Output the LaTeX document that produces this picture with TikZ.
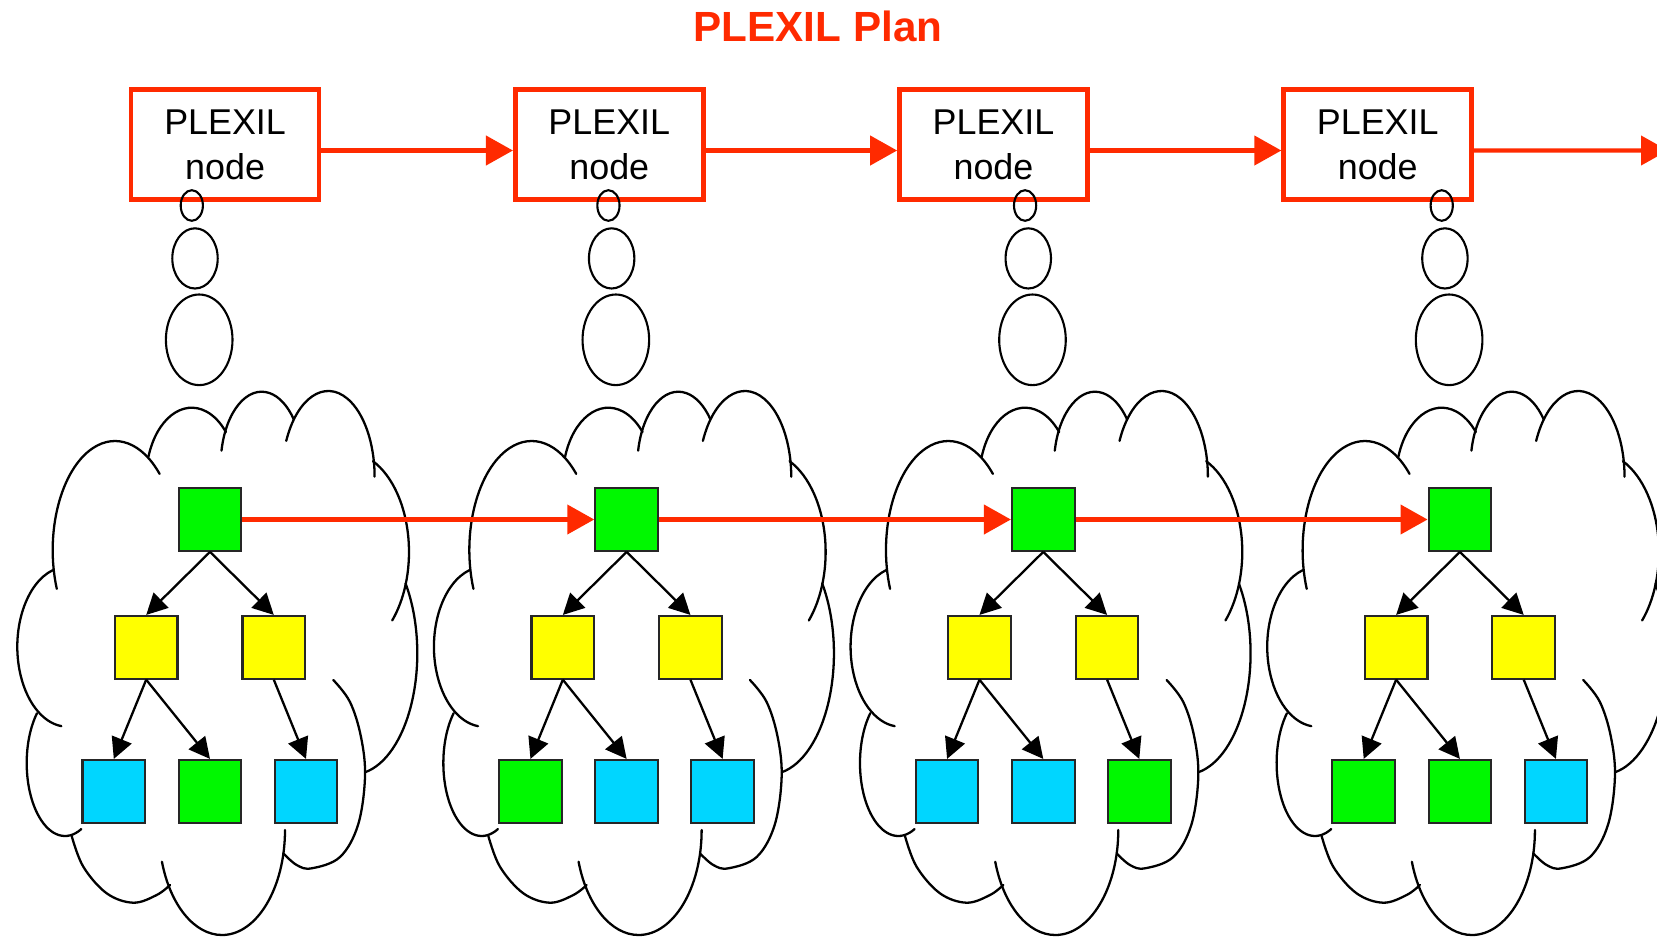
\documentclass[tikz,border=0pt]{standalone}
\usepackage{fontspec}
\setmainfont{Liberation Sans}
\usetikzlibrary{arrows.meta}
\definecolor{plred}{RGB}{255,42,0}
\definecolor{plgreen}{RGB}{0,248,0}
\definecolor{plyellow}{RGB}{255,255,0}
\definecolor{plcyan}{RGB}{0,214,255}
\newcommand\plcloud{%
 \draw[cloudline] (115,550) ++(159.1:62.3 and 109) arc[start angle=159.1,end angle=315.7,x radius=62.3,y radius=109];
 \draw[cloudline] (191.7,480) ++(198.7:45.7 and 72.3) arc[start angle=198.7,end angle=318.5,x radius=45.7,y radius=72.3];
 \draw[cloudline] (261.7,465) ++(191.3:41 and 73.3) arc[start angle=191.3,end angle=321.5,x radius=41,y radius=73.3];
 \draw[cloudline] (328.3,476.7) ++(204.7:46.3 and 85.7) arc[start angle=204.7,end angle=360,x radius=46.3,y radius=85.7];
 \draw[cloudline] (347,552) ++(294.7:62 and 100) arc[start angle=294.7,end angle=403.2,x radius=62,y radius=100];
 \draw[cloudline] (353.3,653.3) ++(324.7:64 and 121) arc[start angle=324.7,end angle=439.2,x radius=64,y radius=121];
 \draw[cloudline] plot[smooth,tension=0.6] coordinates {(333.3,680) (350,702) (361,737) (365,777) (358,825) (340,857) (311.7,868.3) (296.7,865) (283.3,853.3)};
 \draw[cloudline] (222,830) ++(0:63 and 105) arc[start angle=0,end angle=162.4,x radius=63,y radius=105];
 \draw[cloudline] plot[smooth,tension=0.6] coordinates {(170,885) (156.7,895) (133.3,902.7) (106.7,893.3) (83.3,866.7) (71.7,836)};
 \draw[cloudline] (65,763) ++(223:38.3 and 73) arc[start angle=223,end angle=64.8,x radius=38.3,y radius=73];
 \draw[cloudline] (67.3,646.7) ++(253.2:50 and 80) arc[start angle=253.2,end angle=96.8,x radius=50,y radius=80];
}
\begin{document}
\begin{tikzpicture}[x=0.01cm,y=-0.01cm,
  plbox/.style={draw=plred, line width=1.3pt, minimum width=1.88cm, minimum height=1.10cm,
    align=center, inner sep=0pt, font=\fontsize{10.2}{12.8}\selectfont},
  sq/.style={draw=black!85, line width=0.6pt, minimum size=0.626cm, inner sep=0pt},
  gsq/.style={sq, fill=plgreen},
  ysq/.style={sq, fill=plyellow},
  csq/.style={sq, fill=plcyan},
  redarrow/.style={draw=plred, line width=1.2pt, -{Triangle[length=0.27cm,width=0.29cm]}},
  blackarrow/.style={draw=black, line width=0.65pt, -{Triangle[length=0.21cm,width=0.21cm]}},
  cloudline/.style={draw=black, line width=0.65pt, line cap=round},
  bubble/.style={draw=black, line width=0.6pt}
]
\useasboundingbox (0,0) rectangle (1657,936);
\fill[white] (0,0) rectangle (1657,936);
\clip (0,0) rectangle (1657,936);

\node[text=plred, font=\fontsize{12}{14}\selectfont\bfseries, anchor=base] (title) at (818,41.7) {PLEXIL Plan};

% clouds with trees
\foreach \k/\ca/\cb/\cc in {0/csq/gsq/csq, 1/gsq/csq/csq, 2/csq/csq/gsq, 3/gsq/gsq/csq}{
  \begin{scope}[xshift=\k*4.164cm]
    \plcloud
    \node[gsq] (t\k) at (210,519.5) {};
    \node[ysq] (ya\k) at (146.2,647.3) {};
    \node[ysq] (yb\k) at (273.8,647.3) {};
    \node[\ca] (ba\k) at (113.8,791.3) {};
    \node[\cb] (bb\k) at (210,791.3) {};
    \node[\cc] (bc\k) at (306,791.3) {};
    \draw[blackarrow] (t\k.south) -- (ya\k.north);
    \draw[blackarrow] (t\k.south) -- (yb\k.north);
    \draw[blackarrow] (ya\k.south) -- (ba\k.north);
    \draw[blackarrow] (ya\k.south) -- (bb\k.north);
    \draw[blackarrow] (yb\k.south) -- (bc\k.north);
  \end{scope}
}

% red arrows between top squares
\foreach \k/\n in {0/1,1/2,2/3}{
  \draw[redarrow] (t\k.east) -- (t\n.west);
}

% PLEXIL plan nodes
\foreach \k in {0,1,2,3}{
  \node[plbox] (p\k) at (225.1+384.2*\k,144.5) {PLEXIL\\node};
}
\foreach \k/\n in {0/1,1/2,2/3}{
  \draw[redarrow] ([yshift=-0.06cm]p\k.east) -- ([yshift=-0.06cm]p\n.west);
}
\coordinate (rend) at (1668,150.5);
\draw[redarrow] ([yshift=-0.06cm]p3.east) -- (rend);

% thought bubbles
\foreach \k in {0,1,2,3}{
  \begin{scope}[xshift=\k*4.164cm]
    \draw[bubble] (191.8,205.5) ellipse [x radius=11.1, y radius=15.3];
    \draw[bubble] (195,258.4) ellipse [x radius=22.7, y radius=30.1];
    \draw[bubble] (199.2,339.8) ellipse [x radius=33.3, y radius=45.3];
  \end{scope}
}
\end{tikzpicture}
\end{document}
